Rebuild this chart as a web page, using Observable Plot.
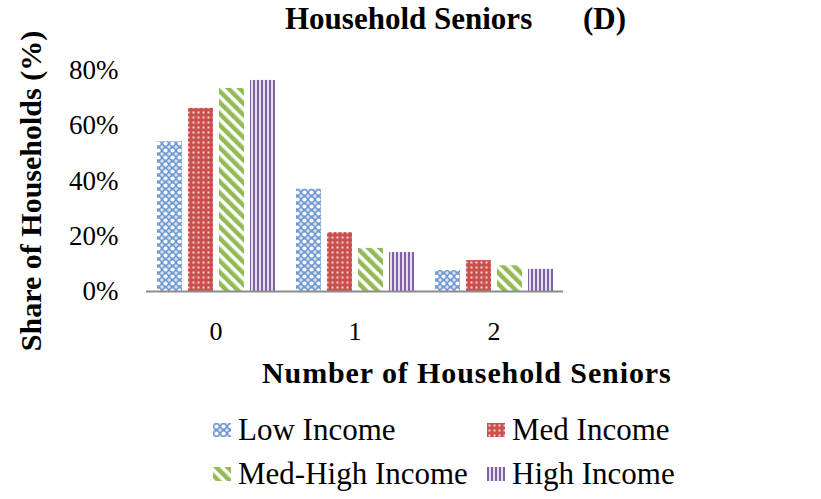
<!DOCTYPE html>
<html>
<head>
<meta charset="utf-8">
<script src="https://cdn.jsdelivr.net/npm/d3@7"></script>
<script src="https://cdn.jsdelivr.net/npm/@observablehq/plot@0.6"></script>
<style>
  html, body { margin: 0; padding: 0; background: #fff; }
  body { width: 821px; height: 499px; position: relative; overflow: hidden; font-family: "Liberation Serif", "Times New Roman", "DejaVu Serif", serif; color: #000; }
  #chart { position: absolute; left: 0; top: 0; }
  #title { position: absolute; left: 0; top: 0; width: 821px; height: 50px; z-index: 2; pointer-events: none; }
  #title span { position: absolute; top: 1px; font-family: "Liberation Serif", "Times New Roman", serif; font-weight: bold; font-size: 31px; white-space: nowrap; }
  #xlabel { position: absolute; left: 262px; top: 356px; width: 400px; text-align: center; font-family: "Liberation Serif", "Times New Roman", serif; font-weight: bold; font-size: 30px; letter-spacing: 0.9px; white-space: nowrap; }
  #legend { position: absolute; left: 0; top: 400px; width: 821px; height: 99px; }
  .item { position: absolute; font-family: "Liberation Serif", "Times New Roman", serif; font-size: 31px; white-space: nowrap; display: flex; align-items: center; }
  .item svg { margin-right: 7px; }
</style>
</head>
<body>
<div id="chart"></div>
<div id="title"><span style="left:285px">Household Seniors</span><span style="left:583px">(D)</span></div>
<div id="xlabel">Number of Household Seniors</div>
<div id="legend"></div>
<script>
const groups = ["0", "1", "2"];
const series = ["Low Income", "Med Income", "Med-High Income", "High Income"];
const lowIncome = [54.2, 37.0, 7.6];
const medIncome = [66.3, 21.3, 11.2];
const medHighIncome = [73.5, 15.6, 9.3];
const highIncome = [76.4, 14.1, 8.0];
const yTicks = [0, 20, 40, 60, 80];

const valuesBySeries = [lowIncome, medIncome, medHighIncome, highIncome];
const patternIds = ["patLow", "patMed", "patMedHigh", "patHigh"];
const data = [];
groups.forEach((g, gi) => series.forEach((s, si) => data.push({group: g, series: s, value: valuesBySeries[si][gi]})));

const plot = Plot.plot({
  width: 821,
  height: 400,
  marginLeft: 145,
  marginRight: 258,
  marginTop: 70,
  marginBottom: 109,
  style: {fontFamily: "Liberation Serif, Times New Roman, serif", fontSize: "27px", color: "#000", background: "transparent"},
  fx: {domain: groups, padding: 0},
  x: {domain: series, axis: null, paddingInner: 0.2, paddingOuter: 0.28},
  y: {domain: [0, 80]},
  marks: [
    Plot.barY(data, {fx: "group", x: "series", y: "value", fill: d => `url(#${patternIds[series.indexOf(d.series)]})`}),
    Plot.ruleY([0], {stroke: "#8c8c8c", strokeWidth: 2}),
    Plot.axisY(yTicks, {tickSize: 0, tickPadding: 28, tickFormat: d => d + "%", fontSize: 27, label: "Share of Households (%)", labelAnchor: "center", labelArrow: "none", labelOffset: 127}),
    Plot.axisFx({anchor: "bottom", tickSize: 0, tickPadding: 30, fontSize: 26, label: null})
  ]
});

// Patterns
const svg = d3.select(plot);
const defs = svg.insert("defs", ":first-child");
{
  const p = defs.append("pattern").attr("id", "patLow").attr("patternUnits", "userSpaceOnUse").attr("width", 7).attr("height", 7);
  p.append("rect").attr("width", 7).attr("height", 7).attr("fill", "#7099d0");
  p.append("circle").attr("cx", 3.5).attr("cy", 3.5).attr("r", 2.1).attr("fill", "#ffffff");
  [[0,0],[7,0],[0,7],[7,7]].forEach(([x,y]) => p.append("circle").attr("cx", x).attr("cy", y).attr("r", 1.7).attr("fill", "#d6e2f3"));
}
{
  const p = defs.append("pattern").attr("id", "patMed").attr("patternUnits", "userSpaceOnUse").attr("width", 5).attr("height", 5);
  p.append("rect").attr("width", 5).attr("height", 5).attr("fill", "#c9504d");
  p.append("rect").attr("x", 1.5).attr("y", 1.5).attr("width", 2).attr("height", 2).attr("fill", "#f4d6d5");
}
{
  const p = defs.append("pattern").attr("id", "patMedHigh").attr("patternUnits", "userSpaceOnUse").attr("width", 8).attr("height", 8).attr("patternTransform", "rotate(-45)");
  p.append("rect").attr("width", 8).attr("height", 8).attr("fill", "#ffffff");
  p.append("rect").attr("width", 4.5).attr("height", 8).attr("fill", "#93bb55");
}
{
  const p = defs.append("pattern").attr("id", "patHigh").attr("patternUnits", "userSpaceOnUse").attr("width", 4).attr("height", 4);
  p.append("rect").attr("width", 4).attr("height", 4).attr("fill", "#e6def0");
  p.append("rect").attr("width", 2).attr("height", 4).attr("fill", "#8063a6");
}
svg.selectAll('[aria-label$="axis label"] text, [aria-label$="axis label"]').attr("font-weight", "bold").attr("font-size", 30);
svg.selectAll('[aria-label="y-axis label"] text').attr("dx", -10);

document.getElementById("chart").appendChild(plot);

// Legend
const legendPos = [[213, 12], [487, 12], [213, 56], [487, 56]];
const legend = d3.select("#legend");
series.forEach((s, i) => {
  const item = legend.append("div").attr("class", "item").style("left", legendPos[i][0] + "px").style("top", legendPos[i][1] + "px");
  const sw = item.append("svg").attr("width", 18).attr("height", 14);
  sw.append("rect").attr("width", 18).attr("height", 14).attr("fill", `url(#${patternIds[i]})`);
  item.append("span").text(s);
});
</script>
</body>
</html>
